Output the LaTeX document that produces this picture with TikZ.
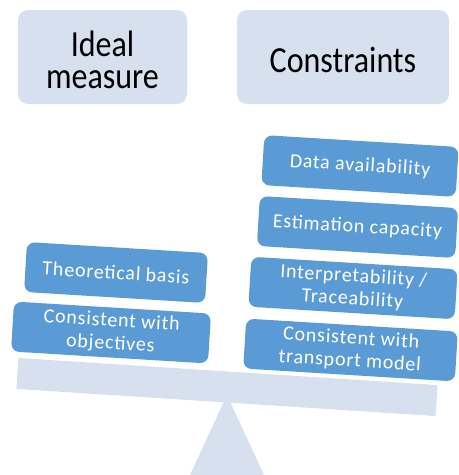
\documentclass[tikz,border=0pt]{standalone}
\usepackage{fontspec}
\setmainfont{Carlito}
\newfontfamily\boxfont[LetterSpace=4]{Carlito}
\usepackage{graphicx}
\usepackage{xcolor}

\definecolor{paleblue}{RGB}{215,224,239}
\definecolor{itemblue}{RGB}{91,155,213}
\newcommand{\tallword}[1]{\raisebox{-13pt}[0pt][0pt]{\scalebox{1}[1.15]{\begin{tabular}{@{}c@{}}#1\end{tabular}}}}

\tikzset{
  headbox/.style={fill=paleblue, rounded corners=7.5pt, inner sep=0pt, minimum height=70.5pt, font=\fontsize{24}{21}\selectfont},
  weightbox/.style={fill=itemblue, rounded corners=6pt, text=white, inner sep=0pt, align=center, minimum height=37.5pt, rotate=-3.5, font=\boxfont\fontsize{15}{17}\selectfont},
}

\begin{document}
\begin{tikzpicture}[x=0.75pt,y=0.75pt,yscale=-1]
\useasboundingbox (0,0) rectangle (459,475);

% Shape: fulcrum
\fill[paleblue] (227,395) -- (264,475) -- (190,475) -- cycle;
% Shape: beam
\node[fill=paleblue, inner sep=0pt, minimum width=315pt, minimum height=23.25pt, rotate=-3.7] (beam) at (227,387) {};

% Text Node: headers
\node[headbox, minimum width=126.75pt] (ideal) at (102.5,57) {\tallword{Ideal\\measure}};
\node[headbox, minimum width=159pt] (constraints) at (343,57) {\tallword{Constraints}};

% left pan
\node[weightbox, minimum width=136pt] (theory) at (116,272.5) {Theoretical basis};
\node[weightbox, minimum width=148pt] (objectives) at (111,332.5) {Consistent with\\objectives};

% right pan
\node[weightbox, minimum width=146pt] (data) at (360,166) {Data availability};
\node[weightbox, minimum width=149pt] (estimation) at (357.5,227) {Estimation capacity};
\node[weightbox, minimum width=155pt] (interpret) at (353,288) {Interpretability /\\Traceability};
\node[weightbox, minimum width=159pt] (transport) at (350.5,350) {Consistent with\\transport model};

\end{tikzpicture}
\end{document}
